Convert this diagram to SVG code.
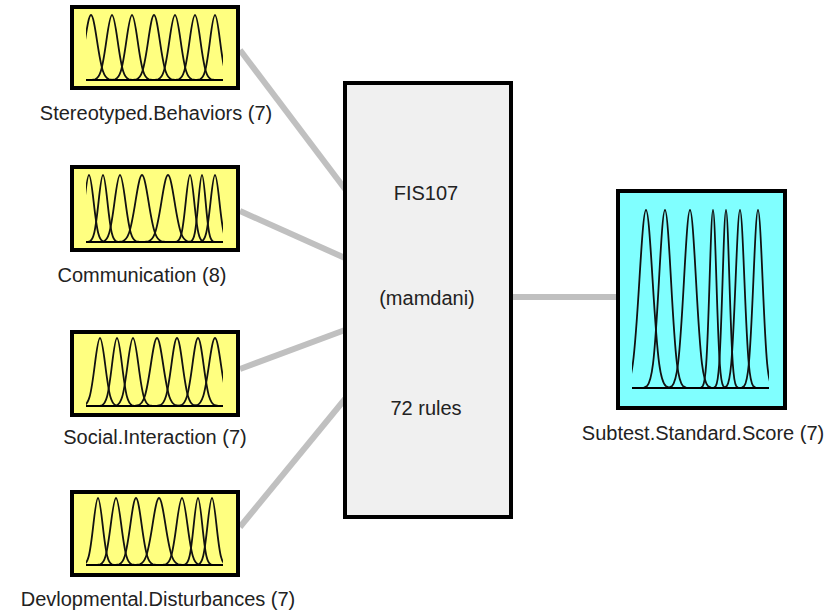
<svg xmlns="http://www.w3.org/2000/svg" xmlns:xlink="http://www.w3.org/1999/xlink" width="830" height="614" viewBox="0 0 830 614">
<style>
  .in { fill: #ffff80; stroke: #000; stroke-width: 4; }
  .out { fill: #80ffff; stroke: #000; stroke-width: 4; }
  .fis { fill: #f0f0f0; stroke: #000; stroke-width: 4; }
  .base { stroke: #000; stroke-width: 2; }
  .conn { stroke: #c0c0c0; stroke-width: 6; fill: none; }
  text { font-family: "Liberation Sans", Arial, sans-serif; font-size: 20px; fill: #222; text-anchor: middle; }
</style>
<defs>
  <path id="g" d="M-3.6,0 L-3,-0.011 C-2.667,-0.022 -2.333,-0.045 -2,-0.135 C-1.667,-0.225 -1.333,-0.404 -1,-0.6065 C-0.667,-0.809 -0.333,-1 0,-1 C0.333,-1 0.667,-0.809 1,-0.6065 C1.333,-0.404 1.667,-0.225 2,-0.135 C2.333,-0.045 2.667,-0.022 3,-0.011 L3.6,0" fill="none" stroke="#111" stroke-width="1.8" vector-effect="non-scaling-stroke"/>
  <clipPath id="c1"><rect x="86" y="0" width="137" height="614"/></clipPath>
  <clipPath id="c5"><rect x="632" y="0" width="137" height="614"/></clipPath>
</defs>

<g id="connectors">
  <line class="conn" x1="240" y1="50" x2="345" y2="189"/>
  <line class="conn" x1="240" y1="211" x2="345" y2="258"/>
  <line class="conn" x1="240" y1="369" x2="345" y2="330"/>
  <line class="conn" x1="240" y1="527" x2="345" y2="399"/>
  <line class="conn" x1="511" y1="297" x2="618" y2="297"/>
</g>

<g id="input1">
  <rect class="in" x="72" y="7" width="166" height="81"/>
  <g clip-path="url(#c1)">
    <use xlink:href="#g" transform="translate(91,80) scale(6,65)"/>
    <use xlink:href="#g" transform="translate(112,80) scale(5.6,65)"/>
    <use xlink:href="#g" transform="translate(132,80) scale(5.6,65)"/>
    <use xlink:href="#g" transform="translate(154,80) scale(5.8,65)"/>
    <use xlink:href="#g" transform="translate(175,80) scale(5.6,65)"/>
    <use xlink:href="#g" transform="translate(195,80) scale(5.4,65)"/>
    <use xlink:href="#g" transform="translate(215,80) scale(5,65)"/>
  </g>
  <line class="base" x1="86" y1="80" x2="223" y2="80"/>
  <text x="156" y="120">Stereotyped.Behaviors (7)</text>
</g>

<g id="input2">
  <rect class="in" x="72" y="167" width="166" height="83"/>
  <g clip-path="url(#c1)">
    <use xlink:href="#g" transform="translate(89,242) scale(4.6,67)"/>
    <use xlink:href="#g" transform="translate(103,242) scale(4.4,67)"/>
    <use xlink:href="#g" transform="translate(120,242) scale(5.4,67)"/>
    <use xlink:href="#g" transform="translate(142,242) scale(6.5,67)"/>
    <use xlink:href="#g" transform="translate(168,242) scale(6.5,67)"/>
    <use xlink:href="#g" transform="translate(190,242) scale(4.2,67)"/>
    <use xlink:href="#g" transform="translate(202,242) scale(3.6,67)"/>
    <use xlink:href="#g" transform="translate(215,242) scale(4.4,67)"/>
  </g>
  <line class="base" x1="86" y1="242" x2="223" y2="242"/>
  <text x="142" y="282">Communication (8)</text>
</g>

<g id="input3">
  <rect class="in" x="72" y="332" width="166" height="83"/>
  <g clip-path="url(#c1)">
    <use xlink:href="#g" transform="translate(100,406) scale(5.2,68)"/>
    <use xlink:href="#g" transform="translate(117,406) scale(5,68)"/>
    <use xlink:href="#g" transform="translate(133,406) scale(5.4,68)"/>
    <use xlink:href="#g" transform="translate(157,406) scale(6.2,68)"/>
    <use xlink:href="#g" transform="translate(177,406) scale(5.6,68)"/>
    <use xlink:href="#g" transform="translate(198,406) scale(5.6,68)"/>
    <use xlink:href="#g" transform="translate(215,406) scale(6,68)"/>
  </g>
  <line class="base" x1="86" y1="406" x2="223" y2="406"/>
  <text x="155" y="444">Social.Interaction (7)</text>
</g>

<g id="input4">
  <rect class="in" x="72" y="492" width="166" height="83"/>
  <g clip-path="url(#c1)">
    <use xlink:href="#g" transform="translate(98,565) scale(4.6,67)"/>
    <use xlink:href="#g" transform="translate(116,565) scale(5.2,67)"/>
    <use xlink:href="#g" transform="translate(136,565) scale(5.6,67)"/>
    <use xlink:href="#g" transform="translate(159,565) scale(6.4,67)"/>
    <use xlink:href="#g" transform="translate(182,565) scale(5.4,67)"/>
    <use xlink:href="#g" transform="translate(198,565) scale(4.2,67)"/>
    <use xlink:href="#g" transform="translate(212,565) scale(4.4,67)"/>
  </g>
  <line class="base" x1="86" y1="565" x2="223" y2="565"/>
  <text x="158" y="606">Devlopmental.Disturbances (7)</text>
</g>

<g id="fis">
  <rect class="fis" x="345" y="83" width="166" height="434"/>
  <text x="426" y="200">FIS107</text>
  <text x="427" y="305">(mamdani)</text>
  <text x="426" y="415">72 rules</text>
</g>

<g id="output">
  <rect class="out" x="618" y="191" width="167" height="217"/>
  <g clip-path="url(#c5)">
    <use xlink:href="#g" transform="translate(646,388) scale(6.6,178)"/>
    <use xlink:href="#g" transform="translate(665,388) scale(6,178)"/>
    <use xlink:href="#g" transform="translate(690,388) scale(6,178)"/>
    <use xlink:href="#g" transform="translate(713,388) scale(3.4,178)"/>
    <use xlink:href="#g" transform="translate(726,388) scale(3.4,178)"/>
    <use xlink:href="#g" transform="translate(740,388) scale(4.4,178)"/>
    <use xlink:href="#g" transform="translate(758,388) scale(4.6,178)"/>
  </g>
  <line class="base" x1="632" y1="388" x2="769" y2="388"/>
  <text x="703" y="440">Subtest.Standard.Score (7)</text>
</g>
</svg>
